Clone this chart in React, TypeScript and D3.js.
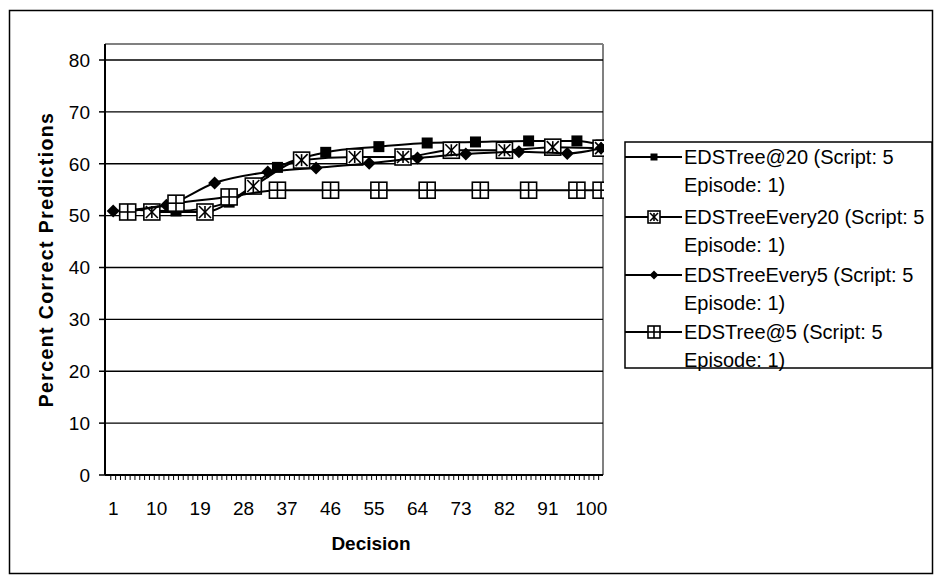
import React from 'react';
import * as d3 from 'd3';

// values
const yTicks = [0, 10, 20, 30, 40, 50, 60, 70, 80];
const xLabels = [1, 10, 19, 28, 37, 46, 55, 64, 73, 82, 91, 100];

const tree20Decisions = [4, 14, 25, 35, 45, 56, 66, 76, 87, 97, 102];
const tree20Values = [51.2, 50.9, 52.6, 59.3, 62.2, 63.3, 64.0, 64.2, 64.4, 64.4, 63.6];

const every20Decisions = [9, 20, 30, 40, 51, 61, 71, 82, 92, 102];
const every20Values = [50.7, 50.7, 55.7, 60.7, 61.3, 61.3, 62.6, 62.6, 63.2, 63.0];

const every5Decisions = [1, 12, 22, 33, 43, 54, 64, 74, 85, 95, 102];
const every5Values = [50.9, 52.0, 56.3, 58.4, 59.2, 60.1, 61.1, 61.9, 62.3, 62.0, 63.0];

const tree5Decisions = [4, 14, 25, 35, 46, 56, 66, 77, 87, 97, 102];
const tree5Values = [50.7, 52.4, 53.6, 54.9, 54.9, 54.9, 54.9, 54.9, 54.9, 54.9, 54.9];

type MarkerKind = 'filledSquare' | 'xSquare' | 'diamond' | 'plusSquare';

const series: { name: string; decisions: number[]; values: number[]; marker: MarkerKind }[] = [
  { name: 'EDSTree@20', decisions: tree20Decisions, values: tree20Values, marker: 'filledSquare' },
  { name: 'EDSTreeEvery20', decisions: every20Decisions, values: every20Values, marker: 'xSquare' },
  { name: 'EDSTreeEvery5', decisions: every5Decisions, values: every5Values, marker: 'diamond' },
  { name: 'EDSTree@5', decisions: tree5Decisions, values: tree5Values, marker: 'plusSquare' },
];

const FONT = '"Liberation Sans", Arial, sans-serif';

const Marker: React.FC<{ kind: MarkerKind; x: number; y: number; small?: boolean }> = ({ kind, x, y, small }) => {
  if (kind === 'filledSquare') {
    const s = small ? 7 : 11;
    return <rect x={x - s / 2} y={y - s / 2} width={s} height={s} fill="#000" />;
  }
  if (kind === 'diamond') {
    const r = small ? 4.5 : 6.5;
    return <path d={`M${x},${y - r}L${x + r},${y}L${x},${y + r}L${x - r},${y}Z`} fill="#000" />;
  }
  const h = small ? 6 : 8;
  const i = h - 2;
  return (
    <g stroke="#000" strokeWidth={1.6} fill="none">
      <rect x={x - h} y={y - h} width={2 * h} height={2 * h} fill="#fff" />
      {kind === 'xSquare' ? (
        <>
          <line x1={x - i} y1={y - i} x2={x + i} y2={y + i} />
          <line x1={x - i} y1={y + i} x2={x + i} y2={y - i} />
          <line x1={x} y1={y - i} x2={x} y2={y + i} />
        </>
      ) : (
        <>
          <line x1={x - h} y1={y} x2={x + h} y2={y} />
          <line x1={x} y1={y - h} x2={x} y2={y + h} />
        </>
      )}
    </g>
  );
};

export default function App() {
  const left = 105;
  const right = 603;
  const top = 44;
  const bottom = 475;

  const x = d3.scaleLinear().domain([-0.7, 102.4]).range([left, right]);
  const y = d3.scaleLinear().domain([0, 80]).range([bottom, 60]);

  const line = d3
    .line<[number, number]>()
    .x((d) => x(d[0]))
    .y((d) => y(d[1]))
    .curve(d3.curveMonotoneX);

  const minorTicks = d3.range(0, 103).map((k) => k + 0.5).filter((v) => x(v) <= right);

  const legendX = 625;
  const legendTop = 142;
  const legendRows = [157, 217, 275, 332];

  return (
    <svg
      width={934}
      height={576}
      style={{ position: 'absolute', left: 0, top: 0, background: '#fff' }}
      fontFamily={FONT}
    >
      <rect x={9.5} y={10.5} width={923} height={563} fill="#fff" stroke="#000" strokeWidth={1.5} />

      <defs>
        <clipPath id="plotClip">
          <rect x={left - 20} y={top - 20} width={right - left + 21} height={bottom - top + 40} />
        </clipPath>
      </defs>

      {/* plot area border */}
      <line x1={left} y1={top} x2={right} y2={top} stroke="#808080" strokeWidth={2} />
      <line x1={right} y1={top} x2={right} y2={bottom} stroke="#808080" strokeWidth={2} />

      {/* gridlines */}
      {yTicks.filter((t) => t > 0).map((t) => (
        <line key={t} x1={left} x2={right} y1={y(t)} y2={y(t)} stroke="#000" strokeWidth={1.3} />
      ))}

      {/* y axis */}
      <line x1={left} y1={top} x2={left} y2={bottom} stroke="#000" strokeWidth={2} />
      {yTicks.map((t) => (
        <g key={t}>
          <line x1={left - 6} x2={left} y1={y(t)} y2={y(t)} stroke="#000" strokeWidth={1.5} />
          <text x={90} y={y(t)} dy="0.36em" textAnchor="end" fontSize={19}>
            {t}
          </text>
        </g>
      ))}

      {/* x axis */}
      <line x1={left} y1={bottom} x2={right} y2={bottom} stroke="#000" strokeWidth={2} />
      {minorTicks.map((t) => (
        <line key={t} x1={x(t)} x2={x(t)} y1={bottom} y2={bottom + 5} stroke="#000" strokeWidth={1} />
      ))}
      {xLabels.map((d) => (
        <text key={d} x={x(d)} y={508} dy="0.36em" textAnchor="middle" fontSize={19}>
          {d}
        </text>
      ))}

      {/* axis titles */}
      <text x={371} y={543} dy="0.36em" textAnchor="middle" fontSize={19} fontWeight="bold">
        Decision
      </text>
      <text
        transform={`translate(46, ${(top + bottom) / 2}) rotate(-90)`}
        textAnchor="middle"
        dy="0.36em"
        fontSize={19.5}
        fontWeight="bold"
        letterSpacing={1.4}
      >
        Percent Correct Predictions
      </text>

      {/* series */}
      <g clipPath="url(#plotClip)">
        {series.map((s) => {
          const pts = s.decisions.map((d, i) => [d, s.values[i]] as [number, number]);
          return (
            <g key={s.name}>
              <path d={line(pts) ?? ''} fill="none" stroke="#000" strokeWidth={2} />
              {pts.map((p, i) => (
                <Marker key={i} kind={s.marker} x={x(p[0])} y={y(p[1])} />
              ))}
            </g>
          );
        })}
      </g>

      {/* legend */}
      <rect x={legendX} y={legendTop} width={307} height={226} fill="#fff" stroke="#000" strokeWidth={1.5} />
      {series.map((s, i) => {
        const cy = legendRows[i];
        return (
          <g key={s.name}>
            <line x1={legendX} x2={legendX + 57} y1={cy} y2={cy} stroke="#000" strokeWidth={2} />
            <Marker kind={s.marker} x={legendX + 29} y={cy} small />
            <text x={legendX + 59} y={cy} dy="0.36em" fontSize={20}>
              {s.name} (Script: 5
            </text>
            <text x={legendX + 59} y={cy + 28} dy="0.36em" fontSize={20}>
              Episode: 1)
            </text>
          </g>
        );
      })}
    </svg>
  );
}
